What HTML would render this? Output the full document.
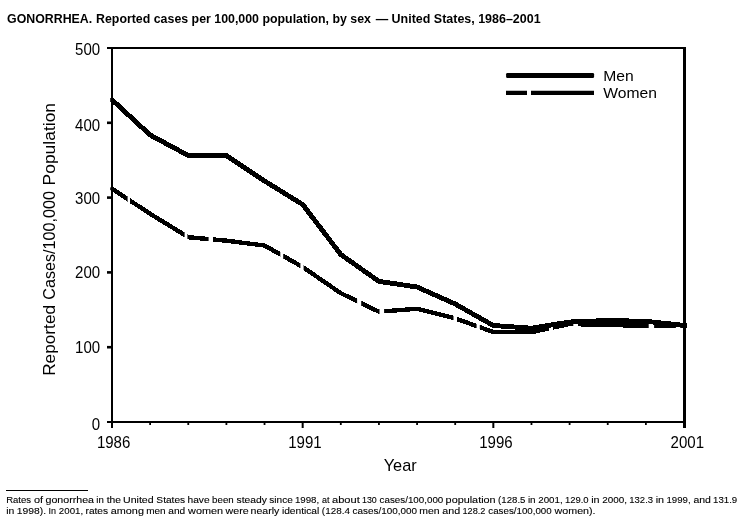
<!DOCTYPE html>
<html><head><meta charset="utf-8"><style>
html,body{margin:0;padding:0;background:#fff;width:745px;height:528px;overflow:hidden}
svg{display:block;will-change:transform}
text{font-family:"Liberation Sans",sans-serif;fill:#000}
</style></head><body>
<svg width="745" height="528" viewBox="0 0 745 528">
<rect width="745" height="528" fill="#fff"/>
<g font-size="13" font-weight="bold"><text x="7.07" y="23" textLength="85.1" lengthAdjust="spacingAndGlyphs">GONORRHEA.</text><text x="96.03" y="23" textLength="275.0" lengthAdjust="spacingAndGlyphs">Reported cases per 100,000 population, by sex</text><text x="375.7" y="23" textLength="164.9" lengthAdjust="spacingAndGlyphs">— United States, 1986–2001</text></g>
<g stroke="#000" fill="none">
<line x1="107" y1="48" x2="685.5" y2="48" stroke-width="2"/>
<line x1="107" y1="422" x2="685.5" y2="422" stroke-width="2"/>
<line x1="112" y1="47" x2="112" y2="428" stroke-width="2"/>
<line x1="684.5" y1="47" x2="684.5" y2="428" stroke-width="3"/>
<g stroke-width="2.6"><line x1="107" y1="347.20" x2="112" y2="347.20"/><line x1="107" y1="272.40" x2="112" y2="272.40"/><line x1="107" y1="197.60" x2="112" y2="197.60"/><line x1="107" y1="122.80" x2="112" y2="122.80"/></g>
<g stroke-width="1.8"><line x1="150.13" y1="422" x2="150.13" y2="425"/><line x1="188.27" y1="422" x2="188.27" y2="425"/><line x1="226.40" y1="422" x2="226.40" y2="425"/><line x1="264.53" y1="422" x2="264.53" y2="425"/><line x1="340.80" y1="422" x2="340.80" y2="425"/><line x1="378.93" y1="422" x2="378.93" y2="425"/><line x1="417.07" y1="422" x2="417.07" y2="425"/><line x1="455.20" y1="422" x2="455.20" y2="425"/><line x1="531.47" y1="422" x2="531.47" y2="425"/><line x1="569.60" y1="422" x2="569.60" y2="425"/><line x1="607.73" y1="422" x2="607.73" y2="425"/><line x1="645.87" y1="422" x2="645.87" y2="425"/></g>
<g stroke-width="2"><line x1="302.67" y1="422" x2="302.67" y2="428"/><line x1="493.33" y1="422" x2="493.33" y2="428"/></g>
</g>
<g><text transform="translate(100.20,54.50) scale(0.94,1)" font-size="16" text-anchor="end">500</text><text transform="translate(100.20,130.50) scale(0.94,1)" font-size="16" text-anchor="end">400</text><text transform="translate(100.20,204.35) scale(0.94,1)" font-size="16" text-anchor="end">300</text><text transform="translate(100.20,278.35) scale(0.94,1)" font-size="16" text-anchor="end">200</text><text transform="translate(100.20,353.40) scale(0.94,1)" font-size="16" text-anchor="end">100</text><text transform="translate(100.20,429.75) scale(0.94,1)" font-size="16" text-anchor="end">0</text><text transform="translate(113.60,447.50) scale(0.94,1)" font-size="16" text-anchor="middle">1986</text><text transform="translate(304.90,447.50) scale(0.94,1)" font-size="16" text-anchor="middle">1991</text><text transform="translate(495.90,447.50) scale(0.94,1)" font-size="16" text-anchor="middle">1996</text><text transform="translate(687.30,447.50) scale(0.94,1)" font-size="16" text-anchor="middle">2001</text></g>
<text x="383.7" y="470.6" font-size="16.2" textLength="33" lengthAdjust="spacingAndGlyphs">Year</text>
<g font-size="16.2"><text transform="translate(55.3,375.83) rotate(-90)" textLength="70.87" lengthAdjust="spacingAndGlyphs">Reported</text><text transform="translate(55.3,299.72) rotate(-90)" textLength="108.65" lengthAdjust="spacingAndGlyphs">Cases/100,000</text><text transform="translate(55.3,185.43) rotate(-90)" textLength="82.48" lengthAdjust="spacingAndGlyphs">Population</text></g>
<defs><clipPath id="mc"><rect x="110.2" y="0" width="576.8" height="528"/></clipPath>
<clipPath id="wc"><rect x="100" y="0" width="27.60" height="528"/><rect x="130.0" y="0" width="54.60" height="528"/><rect x="187.4" y="0" width="21.20" height="528"/><rect x="213.0" y="0" width="67.30" height="528"/><rect x="283.2" y="0" width="17.20" height="528"/><rect x="303.6" y="0" width="53.50" height="528"/><rect x="361.2" y="0" width="18.30" height="528"/><rect x="384.1" y="0" width="69.40" height="528"/><rect x="457.0" y="0" width="19.60" height="528"/><rect x="479.8" y="0" width="69.20" height="528"/><rect x="553.0" y="0" width="20.30" height="528"/><rect x="578.0" y="0" width="70.70" height="528"/><rect x="654.1" y="0" width="21.80" height="528"/><rect x="680.2" y="0" width="6.10" height="528"/></clipPath></defs>
<polyline clip-path="url(#mc)" points="112.00,99.80 150.13,135.00 188.27,155.50 226.40,155.50 264.53,181.00 302.67,204.50 340.80,254.50 378.93,281.40 417.07,287.00 455.20,304.00 493.33,325.50 531.47,328.20 569.60,322.00 607.73,320.50 645.87,321.30 684.00,325.40 690.00,326.05" fill="none" stroke="#000" stroke-width="4.9" stroke-linejoin="round" shape-rendering="crispEdges"/>
<polyline clip-path="url(#wc)" points="112.00,188.70 150.13,213.80 188.27,237.20 226.40,240.70 264.53,245.50 302.67,267.00 340.80,293.20 378.93,311.70 417.07,308.80 455.20,318.40 493.33,332.00 531.47,332.20 569.60,324.00 607.73,325.00 645.87,325.80 684.00,326.10 690.00,326.15" fill="none" stroke="#000" stroke-width="4.4" stroke-linejoin="round" shape-rendering="crispEdges"/>
<rect x="110.2" y="98" width="2.5" height="3.2"/><rect x="110.2" y="187.4" width="2.5" height="2.8"/>
<rect x="506.1" y="73" width="88" height="5" rx="1.3"/>
<path d="M506 92.8h21M531 92.8h63" stroke="#000" stroke-width="4.3"/>
<text transform="translate(603.20,80.80) scale(1.045,1)" font-size="15" text-anchor="start">Men</text>
<text transform="translate(603.20,97.70) scale(1.045,1)" font-size="15" text-anchor="start">Women</text>
<line x1="6" y1="490.5" x2="88" y2="490.5" stroke="#000" stroke-width="1"/>
<g font-size="9" stroke="#000" stroke-width="0.1">
<text x="6.16" y="502.5" textLength="24.90" lengthAdjust="spacingAndGlyphs">Rates</text><text x="33.92" y="502.5" textLength="9.10" lengthAdjust="spacingAndGlyphs">of</text><text x="45.52" y="502.5" textLength="48.50" lengthAdjust="spacingAndGlyphs">gonorrhea</text><text x="96.30" y="502.5" textLength="7.50" lengthAdjust="spacingAndGlyphs">in</text><text x="106.76" y="502.5" textLength="14.30" lengthAdjust="spacingAndGlyphs">the</text><text x="123.01" y="502.5" textLength="30.60" lengthAdjust="spacingAndGlyphs">United</text><text x="156.39" y="502.5" textLength="28.80" lengthAdjust="spacingAndGlyphs">States</text><text x="187.48" y="502.5" textLength="22.10" lengthAdjust="spacingAndGlyphs">have</text><text x="212.12" y="502.5" textLength="21.60" lengthAdjust="spacingAndGlyphs">been</text><text x="236.55" y="502.5" textLength="30.30" lengthAdjust="spacingAndGlyphs">steady</text><text x="269.35" y="502.5" textLength="23.50" lengthAdjust="spacingAndGlyphs">since</text><text x="294.91" y="502.5" textLength="24.30" lengthAdjust="spacingAndGlyphs">1998,</text><text x="322.02" y="502.5" textLength="7.50" lengthAdjust="spacingAndGlyphs">at</text><text x="332.02" y="502.5" textLength="27.80" lengthAdjust="spacingAndGlyphs">about</text><text x="362.01" y="502.5" textLength="14.80" lengthAdjust="spacingAndGlyphs">130</text><text x="379.62" y="502.5" textLength="63.70" lengthAdjust="spacingAndGlyphs">cases/100,000</text><text x="445.62" y="502.5" textLength="50.00" lengthAdjust="spacingAndGlyphs">population</text><text x="498.14" y="502.5" textLength="27.30" lengthAdjust="spacingAndGlyphs">(128.5</text><text x="527.90" y="502.5" textLength="7.70" lengthAdjust="spacingAndGlyphs">in</text><text x="538.25" y="502.5" textLength="24.40" lengthAdjust="spacingAndGlyphs">2001,</text><text x="564.91" y="502.5" textLength="23.70" lengthAdjust="spacingAndGlyphs">129.0</text><text x="591.20" y="502.5" textLength="8.40" lengthAdjust="spacingAndGlyphs">in</text><text x="602.25" y="502.5" textLength="24.80" lengthAdjust="spacingAndGlyphs">2000,</text><text x="629.31" y="502.5" textLength="23.80" lengthAdjust="spacingAndGlyphs">132.3</text><text x="655.70" y="502.5" textLength="8.40" lengthAdjust="spacingAndGlyphs">in</text><text x="666.51" y="502.5" textLength="24.10" lengthAdjust="spacingAndGlyphs">1999,</text><text x="693.42" y="502.5" textLength="17.50" lengthAdjust="spacingAndGlyphs">and</text><text x="713.11" y="502.5" textLength="24.09" lengthAdjust="spacingAndGlyphs">131.9</text><text x="6.30" y="513.6" textLength="8.10" lengthAdjust="spacingAndGlyphs">in</text><text x="16.81" y="513.6" textLength="29.30" lengthAdjust="spacingAndGlyphs">1998).</text><text x="48.47" y="513.6" textLength="7.50" lengthAdjust="spacingAndGlyphs">In</text><text x="58.85" y="513.6" textLength="24.30" lengthAdjust="spacingAndGlyphs">2001,</text><text x="85.50" y="513.6" textLength="22.60" lengthAdjust="spacingAndGlyphs">rates</text><text x="110.82" y="513.6" textLength="33.10" lengthAdjust="spacingAndGlyphs">among</text><text x="146.20" y="513.6" textLength="19.40" lengthAdjust="spacingAndGlyphs">men</text><text x="168.32" y="513.6" textLength="16.90" lengthAdjust="spacingAndGlyphs">and</text><text x="188.11" y="513.6" textLength="35.00" lengthAdjust="spacingAndGlyphs">women</text><text x="225.61" y="513.6" textLength="23.10" lengthAdjust="spacingAndGlyphs">were</text><text x="250.60" y="513.6" textLength="28.80" lengthAdjust="spacingAndGlyphs">nearly</text><text x="281.90" y="513.6" textLength="37.40" lengthAdjust="spacingAndGlyphs">identical</text><text x="321.84" y="513.6" textLength="28.10" lengthAdjust="spacingAndGlyphs">(128.4</text><text x="352.62" y="513.6" textLength="64.40" lengthAdjust="spacingAndGlyphs">cases/100,000</text><text x="419.30" y="513.6" textLength="20.30" lengthAdjust="spacingAndGlyphs">men</text><text x="442.32" y="513.6" textLength="17.90" lengthAdjust="spacingAndGlyphs">and</text><text x="462.41" y="513.6" textLength="23.10" lengthAdjust="spacingAndGlyphs">128.2</text><text x="488.32" y="513.6" textLength="63.40" lengthAdjust="spacingAndGlyphs">cases/100,000</text><text x="554.61" y="513.6" textLength="40.99" lengthAdjust="spacingAndGlyphs">women).</text>
</g>
</svg>
</body></html>
